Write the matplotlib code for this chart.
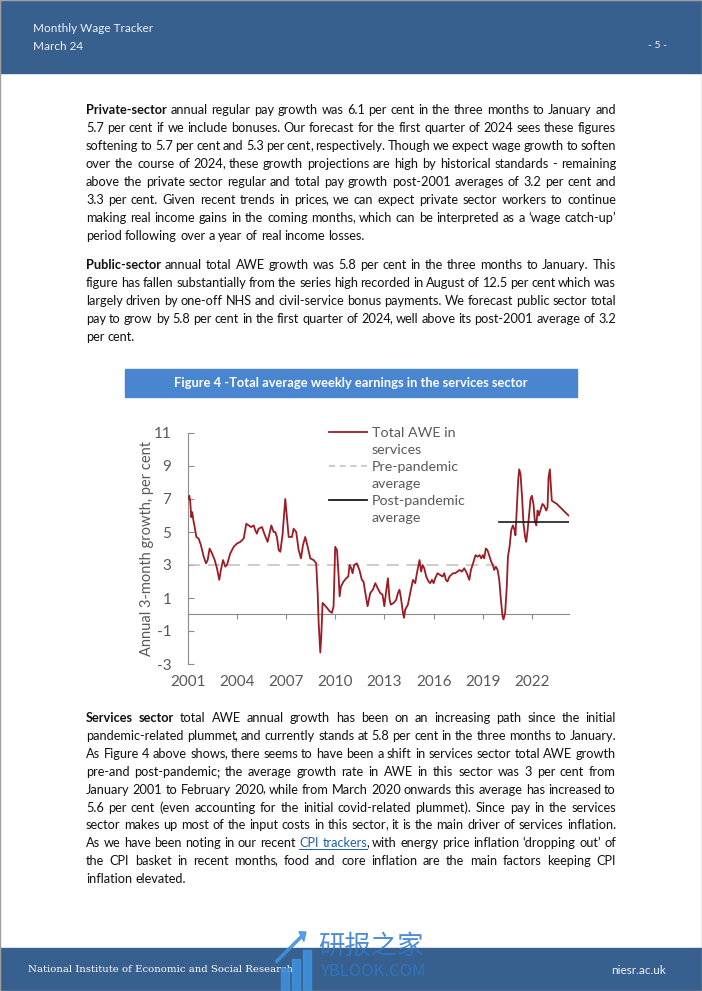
import re
import matplotlib as mpl
import matplotlib.pyplot as plt
from matplotlib.lines import Line2D
from matplotlib.patches import Rectangle, FancyArrow

mpl.rcParams['font.family'] = 'Lato'
mpl.rcParams['axes.unicode_minus'] = False

W, H = 702, 991

# --- chart data ---
years = [2001.00, 2001.08, 2001.14, 2001.20, 2001.26, 2001.33, 2001.39, 2001.51, 2001.65, 2001.79,
         2001.96, 2002.10, 2002.20, 2002.32, 2002.47, 2002.63, 2002.77, 2002.91, 2003.01, 2003.14,
         2003.28, 2003.38, 2003.58, 2003.79, 2003.99, 2004.19, 2004.40, 2004.56, 2004.70, 2004.85,
         2005.01, 2005.11, 2005.21, 2005.31, 2005.52, 2005.66, 2005.86, 2006.09, 2006.23, 2006.33,
         2006.43, 2006.54, 2006.64, 2006.78, 2006.94, 2007.04, 2007.15, 2007.35, 2007.45, 2007.61,
         2007.76, 2007.90, 2008.02, 2008.16, 2008.31, 2008.47, 2008.67, 2008.83, 2008.92, 2008.98,
         2009.08, 2009.14, 2009.22, 2009.32, 2009.49, 2009.65, 2009.79, 2009.89, 2009.99, 2010.10,
         2010.20, 2010.26, 2010.34, 2010.50, 2010.67, 2010.79, 2010.87, 2010.97, 2011.05, 2011.15,
         2011.31, 2011.47, 2011.62, 2011.72, 2011.83, 2011.97, 2012.13, 2012.29, 2012.44, 2012.58,
         2012.74, 2012.88, 2012.99, 2013.09, 2013.21, 2013.31, 2013.39, 2013.56, 2013.72, 2013.82,
         2013.92, 2014.02, 2014.13, 2014.19, 2014.27, 2014.43, 2014.57, 2014.74, 2014.88, 2014.98,
         2015.14, 2015.24, 2015.33, 2015.43, 2015.55, 2015.69, 2015.79, 2015.90, 2016.00, 2016.10,
         2016.24, 2016.40, 2016.55, 2016.65, 2016.75, 2016.85, 2016.97, 2017.08, 2017.18, 2017.32,
         2017.46, 2017.59, 2017.73, 2017.87, 2018.03, 2018.18, 2018.28, 2018.44, 2018.56, 2018.68,
         2018.81, 2018.91, 2019.01, 2019.09, 2019.19, 2019.29, 2019.42, 2019.52, 2019.62, 2019.70,
         2019.80, 2019.91, 2020.01, 2020.11, 2020.21, 2020.27, 2020.37, 2020.47, 2020.54, 2020.64,
         2020.74, 2020.84, 2020.92, 2021.00, 2021.09, 2021.17, 2021.23, 2021.31, 2021.41, 2021.49,
         2021.59, 2021.66, 2021.74, 2021.82, 2021.92, 2022.00, 2022.10, 2022.18, 2022.27, 2022.35,
         2022.43, 2022.55, 2022.65, 2022.75, 2022.88, 2022.96, 2023.02, 2023.10, 2023.16, 2023.22,
         2023.53, 2023.93, 2024.24]
awe_growth = [7.0, 7.2, 6.8, 5.9, 6.2, 5.7, 5.4, 4.7, 4.6, 4.2,
              3.5, 3.1, 3.3, 4.0, 3.7, 3.3, 2.8, 2.1, 2.7, 3.3,
              2.9, 3.0, 3.7, 4.1, 4.3, 4.4, 4.6, 5.5, 5.4, 5.3,
              5.4, 5.1, 4.9, 5.2, 5.3, 4.9, 4.4, 5.4, 5.0, 5.0,
              4.7, 3.9, 3.8, 4.9, 7.0, 5.9, 4.7, 4.7, 5.2, 5.0,
              3.9, 3.4, 4.2, 4.7, 4.1, 3.4, 3.3, 3.1, 1.3, -0.5,
              -2.3, -1.3, 0.7, 0.6, 0.4, 0.2, 0.1, 0.5, 4.1, 3.9,
              2.3, 1.1, 1.7, 2.0, 2.2, 2.3, 3.0, 2.8, 2.5, 3.0,
              3.1, 2.7, 2.1, 2.0, 1.3, 0.5, 1.3, 1.5, 1.9, 1.6,
              1.3, 1.2, 0.5, 1.3, 2.2, 0.9, 0.6, 0.7, 0.9, 1.3,
              1.5, 0.9, 0.1, -0.2, 0.3, 0.6, 1.3, 2.1, 1.9, 2.5,
              3.3, 2.6, 3.0, 2.8, 2.3, 2.0, 1.9, 2.1, 1.9, 2.2,
              2.5, 2.4, 2.3, 2.5, 2.1, 2.0, 2.3, 2.4, 2.5, 2.5,
              2.6, 2.7, 2.6, 2.8, 2.5, 2.1, 2.7, 3.2, 3.6, 3.5,
              3.6, 3.4, 3.6, 3.4, 4.0, 3.9, 3.5, 3.2, 3.0, 2.7,
              2.9, 2.7, 2.1, 0.9, -0.1, -0.3, 0.1, 1.7, 3.5, 4.1,
              5.1, 5.4, 5.2, 4.8, 6.6, 8.2, 8.8, 8.5, 7.0, 5.5,
              4.7, 4.4, 5.1, 5.9, 7.0, 7.2, 6.7, 5.7, 5.4, 6.3,
              6.0, 6.4, 6.7, 6.6, 6.3, 6.5, 8.3, 8.8, 7.8, 6.9,
              6.7, 6.3, 6.0]
pre_avg = 3.0
post_avg = 5.6
pre_span = [2001.0, 2019.75]
post_span = [2019.97, 2024.24]
xticks = [2001, 2004, 2007, 2010, 2013, 2016, 2019, 2022]
yticks = [-3, -1, 1, 3, 5, 7, 9, 11]
legend_labels = ['Total AWE in', 'services', 'Pre-pandemic', 'average', 'Post-pandemic', 'average']
chart_title = 'Figure 4 -Total average weekly earnings in the services sector'
ylabel = 'Annual 3-month growth, per cent'

# --- page text ---
para1 = [
    "**Private-sector** annual regular pay growth was 6.1 per cent in the three months to January and",
    "5.7 per cent if we include bonuses. Our forecast for the first quarter of 2024 sees these figures",
    "softening to 5.7 per cent and 5.3 per cent, respectively. Though we expect wage growth to soften",
    "over the course of 2024, these growth projections are high by historical standards - remaining",
    "above the private sector regular and total pay growth post-2001 averages of 3.2 per cent and",
    "3.3 per cent. Given recent trends in prices, we can expect private sector workers to continue",
    "making real income gains in the coming months, which can be interpreted as a \u2018wage catch-up\u2019",
    "period following over a year of real income losses.",
]
para2 = [
    "**Public-sector** annual total AWE growth was 5.8 per cent in the three months to January. This",
    "figure has fallen substantially from the series high recorded in August of 12.5 per cent which was",
    "largely driven by one-off NHS and civil-service bonus payments. We forecast public sector total",
    "pay to grow by 5.8 per cent in the first quarter of 2024, well above its post-2001 average of 3.2",
    "per cent.",
]
para3 = [
    "**Services sector** total AWE annual growth has been on an increasing path since the initial",
    "pandemic-related plummet, and currently stands at 5.8 per cent in the three months to January.",
    "As Figure 4 above shows, there seems to have been a shift in services sector total AWE growth",
    "pre-and post-pandemic; the average growth rate in AWE in this sector was 3 per cent from",
    "January 2001 to February 2020, while from March 2020 onwards this average has increased to",
    "5.6 per cent (even accounting for the initial covid-related plummet).  Since pay in the services",
    "sector makes up most of the input costs in this sector, it is the main driver of services inflation.",
    "As we have been noting in our recent [[CPI trackers]], with energy price inflation \u2018dropping out\u2019 of",
    "the CPI basket in recent months, food and core inflation are the main factors keeping CPI",
    "inflation elevated.",
]

RED = '#9C1C24'
GREY = '#595959'
AXGREY = '#8C8C8C'
BLUE_BAND = '#38608F'
LINK = '#1F5FAE'
MARK = '#2E78C8'
CJK = ['Noto Sans CJK SC', 'DejaVu Sans']


def fx(x):
    return x / W


def fy(y):
    return 1 - y / H


fig = plt.figure(figsize=(W / 100, H / 100), dpi=100)
renderer = fig.canvas.get_renderer()

# header / footer bands
fig.patches.append(Rectangle((0, fy(73)), 1, 73 / H, transform=fig.transFigure,
                             color=BLUE_BAND, zorder=0))
fig.patches.append(Rectangle((0, 0), 1, (H - 948) / H, transform=fig.transFigure,
                             color=BLUE_BAND, zorder=0))
fig.patches.append(Rectangle((0.0007, 0.0005), 0.9986, 0.999, transform=fig.transFigure,
                             fill=False, edgecolor='#A0A0A0', lw=1, zorder=5))
fig.text(fx(33), fy(29), 'Monthly Wage Tracker', color='#EEF2F7', fontsize=8.5, va='center')
fig.text(fx(33), fy(46), 'March 24', color='#EEF2F7', fontsize=8.5, va='center')
fig.text(fx(658), fy(45), '- 5 -', color='#EEF2F7', fontsize=7.5, va='center', ha='center')
fig.text(fx(28), fy(970), 'National Institute of Economic and Social Research', color='white',
         fontsize=7.3, va='center', family='DejaVu Serif')
fig.text(fx(666), fy(970), 'niesr.ac.uk', color='#EEF2F7', fontsize=8.5, va='center', ha='right')

# watermark (logo + text)
for bx, btop in [(281, 968), (292, 959), (303, 950)]:
    fig.patches.append(Rectangle((fx(bx), 0), 8 / W, (H - btop) / H, transform=fig.transFigure,
                                 color='#3F92DD', alpha=0.85, zorder=6))
fig.patches.append(FancyArrow(fx(276), fy(962), fx(30), 30 / H, width=0.0025,
                              head_width=0.012, head_length=0.008, length_includes_head=True,
                              transform=fig.transFigure, color='#3F92DD', alpha=0.85, zorder=6))
fig.text(fx(318), fy(946), '研报之家', color=MARK, alpha=0.85, fontsize=19,
         va='center', family=CJK, zorder=6)
fig.text(fx(320), fy(972), 'YBLOOK.COM', color=MARK, alpha=0.85, fontsize=12,
         va='center', family=CJK, zorder=6)

# --- justified body text ---
STYLES = {'normal': dict(color='#111111'),
          'bold': dict(color='#111111', fontweight='bold'),
          'link': dict(color=LINK)}
SIZE = 9.15
PUNCT = ',;'


def parse(line):
    # words -> list of (piece, style); trailing punctuation kept as its own piece
    bold = link = False
    words = [[]]
    for tok in re.split(r'(\*\*|\[\[|\]\])', line):
        if tok == '**':
            bold = not bold
            continue
        if tok == '[[':
            link = True
            continue
        if tok == ']]':
            link = False
            continue
        style = 'bold' if bold else ('link' if link else 'normal')
        for k, p in enumerate(tok.split(' ')):
            if k > 0 and words[-1]:
                words.append([])
            if not p:
                continue
            m = re.match(r'^(.*?)([,;]?)$', p)
            if m.group(1):
                words[-1].append((m.group(1), style))
            if m.group(2):
                words[-1].append((m.group(2), style))
    if not words[-1]:
        words.pop()
    return words


t1 = fig.text(0, 0, 'a a', fontsize=SIZE)
t2 = fig.text(0, 0, 'aa', fontsize=SIZE)
SPACE = t1.get_window_extent(renderer).width - t2.get_window_extent(renderer).width
t1.remove()
t2.remove()


def text_line(line, y, justify=True, left=86, right=616):
    base = y + 4
    items = []
    for word in parse(line):
        pcs = []
        for p, st in word:
            t = fig.text(0, fy(base), p, fontsize=SIZE, va='baseline', ha='left', **STYLES[st])
            w = t.get_window_extent(renderer).width
            if p in PUNCT:
                w -= 1.3
            pcs.append((t, w, st))
        items.append(pcs)
    widths = [sum(w for _, w, _ in pcs) for pcs in items]
    gap = SPACE
    if justify and len(items) > 1:
        gap = (right - left - sum(widths)) / (len(items) - 1)
    x = left
    link_x = []
    for pcs in items:
        for t, w, st in pcs:
            if t.get_text() in PUNCT:
                x -= 1.3
            t.set_x(fx(x))
            if st == 'link':
                link_x += [x, x + w]
            x += w + (1.3 if t.get_text() in PUNCT else 0)
        x += gap
    if link_x:
        fig.add_artist(Line2D([fx(min(link_x)), fx(max(link_x))], [fy(base + 2)] * 2,
                              color=LINK, lw=0.7, transform=fig.transFigure))


def paragraph(lines, y0, step=18.0):
    for i, line in enumerate(lines):
        text_line(line, y0 + i * step, justify=(i < len(lines) - 1))


paragraph(para1, 110)
paragraph(para2, 265)
paragraph(para3, 718, step=17.9)

# --- chart title box ---
fig.patches.append(Rectangle((fx(125), fy(397)), (577 - 125) / W, (397 - 369) / H,
                             transform=fig.transFigure, color='#4A86D0', zorder=0))
fig.text(fx(351), fy(383), chart_title, color='white', fontweight='bold', fontsize=9.3,
         ha='center', va='center')

# --- chart ---
ax = fig.add_axes([fx(188), fy(664), (569 - 188) / W, (664 - 433) / H])
ax.plot(years, awe_growth, color=RED, lw=1.3, zorder=3)
ax.plot(pre_span, [pre_avg] * 2, color='#BFBFBF', lw=1.1, dashes=(8, 5), zorder=2)
ax.plot(post_span, [post_avg] * 2, color='#1A1A1A', lw=1.2, zorder=4)
ax.set_xlim(2001, 2024.27)
ax.set_ylim(-3, 11)

for s in ['top', 'right', 'bottom']:
    ax.spines[s].set_visible(False)
ax.spines['left'].set_color(AXGREY)
ax.set_yticks(yticks)
ax.tick_params(axis='y', direction='in', length=4, color=AXGREY, labelcolor=GREY,
               labelsize=11, pad=12)
ax.set_xticks(xticks)
ax.tick_params(axis='x', length=0, labelcolor=GREY, labelsize=11, pad=8)
ax.set_ylabel(ylabel, color=GREY, fontsize=10.5)
ax.yaxis.set_label_coords(-0.09, 0.5)

# x axis line at zero with its own tick marks
sec = ax.secondary_xaxis(3 / 14)
sec.set_xticks(xticks)
sec.set_xticklabels([])
sec.tick_params(direction='out', length=3.5, color=AXGREY)
sec.spines['bottom'].set_color(AXGREY)

handles = [Line2D([], [], color=RED, lw=1.3), Line2D([], [], color='none'),
           Line2D([], [], color='#BFBFBF', lw=1.1, dashes=(4, 3)), Line2D([], [], color='none'),
           Line2D([], [], color='#1A1A1A', lw=1.3), Line2D([], [], color='none')]
ax.legend(handles, legend_labels, loc='upper left', bbox_to_anchor=(0.37, 1.025), frameon=False,
          fontsize=10.3, handlelength=2.65, handletextpad=0.35, labelspacing=0.34,
          borderpad=0, borderaxespad=0, labelcolor=GREY)

fig.savefig('out.png', dpi=100)
